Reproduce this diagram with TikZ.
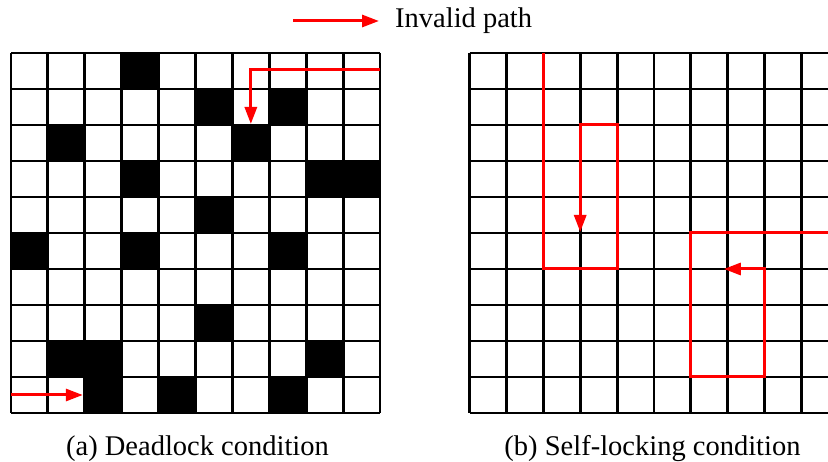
\documentclass[tikz,border=0pt]{standalone}
\usepackage{fontspec}
\setmainfont{Liberation Serif}
\usetikzlibrary{arrows.meta}
\tikzset{
  gridline/.style={line width=2.9pt, black},
  blocked/.style={fill=black},
  redpath/.style={line width=3pt, red, line join=miter,
    -{Triangle[length=17pt, width=12pt]}},
  label/.style={font=\fontsize{28.5}{32}\selectfont, inner sep=0pt},
}
\begin{document}
\begin{tikzpicture}[x=1pt, y=-1pt]
  \useasboundingbox (0,0) rectangle (828,462);
  \clip (0,0) rectangle (828,462);
  \fill[white] (0,0) rectangle (828,462);

  % cell size and grid origins
  \def\cw{36.9}
  \def\ch{36.0}
  \def\gy{53}

  % ---------- (a) deadlock grid ----------
  \def\ax{11}
  \foreach \r/\c in {0/3, 1/5, 1/7, 2/1, 2/6, 3/3, 3/8, 3/9, 4/5,
                     5/0, 5/3, 5/7, 7/5, 8/1, 8/2, 8/8, 9/2, 9/4, 9/7}
    \fill[blocked] (\ax+\c*\cw, \gy+\r*\ch) rectangle ++(\cw, \ch);
  \foreach \k in {0,...,10} {
    \draw[gridline] (\ax+\k*\cw, \gy) -- (\ax+\k*\cw, \gy+10*\ch);
    \draw[gridline] (\ax, \gy+\k*\ch) -- (\ax+10*\cw, \gy+\k*\ch);
  }

  % ---------- (b) self-locking grid ----------
  \def\bx{469.5}
  \foreach \k in {0,...,10} {
    \draw[gridline] (\bx+\k*\cw, \gy) -- (\bx+\k*\cw, \gy+10*\ch);
    \draw[gridline] (\bx, \gy+\k*\ch) -- (\bx+10*\cw, \gy+\k*\ch);
  }

  % ---------- invalid paths ----------
  \coordinate (a1s) at (\ax+10*\cw, 70);
  \coordinate (a1c) at (\ax+6.5*\cw, 70);
  \coordinate (a1e) at (\ax+6.5*\cw, \gy+2*\ch-1);
  \draw[redpath] (a1s) -- (a1c) -- (a1e);

  \coordinate (a2s) at (\ax, \gy+9.5*\ch);
  \coordinate (a2e) at (\ax+2*\cw-2, \gy+9.5*\ch);
  \draw[redpath] (a2s) -- (a2e);

  \coordinate (b1s) at (\bx+2*\cw, \gy);
  \coordinate (b1a) at (\bx+2*\cw, \gy+6*\ch);
  \coordinate (b1b) at (\bx+4*\cw, \gy+6*\ch);
  \coordinate (b1c) at (\bx+4*\cw, \gy+2*\ch);
  \coordinate (b1d) at (\bx+3*\cw, \gy+2*\ch);
  \coordinate (b1e) at (\bx+3*\cw, \gy+5*\ch-1);
  \draw[redpath] (b1s) -- (b1a) -- (b1b) -- (b1c) -- (b1d) -- (b1e);

  \coordinate (b2s) at (\bx+10*\cw, \gy+5*\ch);
  \coordinate (b2a) at (\bx+6*\cw, \gy+5*\ch);
  \coordinate (b2b) at (\bx+6*\cw, \gy+9*\ch);
  \coordinate (b2c) at (\bx+8*\cw, \gy+9*\ch);
  \coordinate (b2d) at (\bx+8*\cw, \gy+6*\ch);
  \coordinate (b2e) at (\bx+7*\cw-4, \gy+6*\ch);
  \draw[redpath] (b2s) -- (b2a) -- (b2b) -- (b2c) -- (b2d) -- (b2e);

  % ---------- legend ----------
  \coordinate (lgs) at (293, 21);
  \coordinate (lge) at (379, 21);
  \draw[redpath] (lgs) -- (lge);
  \node[label, anchor=base west] (lgtext) at (395, 28) {Invalid path};

  % ---------- captions ----------
  \node[label, anchor=base] (capa) at (\ax+5*\cw+2, 456) {(a) Deadlock condition};
  \node[label, anchor=base] (capb) at (652.5, 456) {(b) Self-locking condition};
\end{tikzpicture}
\end{document}
